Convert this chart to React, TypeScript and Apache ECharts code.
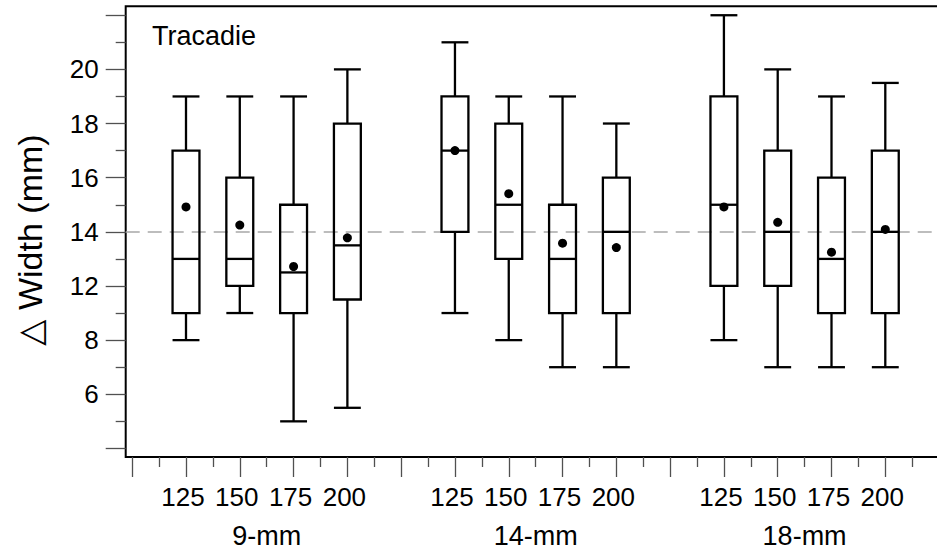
import React, { useEffect, useRef } from "react";
import * as echarts from "echarts";

// ---- data ----
const sizeLabels = ["125", "150", "175", "200"];
const groupLabels = ["9-mm", "14-mm", "18-mm"];

// per box, order: 9-mm(125,150,175,200), 14-mm(...), 18-mm(...)
const whiskerLow = [10, 11, 7, 7.5, 11, 10, 9, 9, 10, 9, 9, 9];
const quart1 = [11, 12, 11, 11.5, 14, 13, 11, 11, 12, 12, 11, 11];
const medians = [13, 13, 12.5, 13.5, 17, 15, 13, 14, 15, 14, 13, 14];
const quart3 = [17, 16, 15, 18, 19, 18, 15, 16, 19, 17, 16, 17];
const whiskerHigh = [19, 19, 19, 20, 21, 19, 19, 18, 22, 20, 19, 19.5];
const means = [14.92, 14.25, 12.72, 13.78, 17.0, 15.41, 13.58, 13.42, 14.92, 14.35, 13.25, 14.09];

const referenceLine = 14;
const yMajorTicks = [6, 8, 10, 12, 14, 16, 18, 20, 22];
const yMinorTicks = [7, 9, 11, 13, 15, 17, 19, 21];
const yLabelValues = [8, 10, 12, 14, 16, 18, 20];
const yLabelTexts = ["6", "8", "12", "14", "16", "18", "20"];

const FONT = "'Liberation Sans', Arial, Helvetica, sans-serif";

export default function App() {
  const ref = useRef<HTMLDivElement>(null);

  useEffect(() => {
    if (!ref.current) return;
    const chart = echarts.init(ref.current, null, { renderer: "svg" });

    const slot = (g: number, i: number) => 2 + g * 5 + i;
    const boxData: number[][] = [];
    const meanData: number[][] = [];
    const sizePos: number[] = [];
    const sizeText: Record<string, string> = {};
    groupLabels.forEach((_, g) => {
      sizeLabels.forEach((s, i) => {
        const k = g * sizeLabels.length + i;
        const x = slot(g, i);
        boxData.push([x, whiskerLow[k], quart1[k], medians[k], quart3[k], whiskerHigh[k]]);
        meanData.push([x, means[k]]);
        sizePos.push(x);
        sizeText[String(x)] = s;
      });
    });
    const groupPos = groupLabels.map((_, g) => slot(g, 1.5));
    const groupText: Record<string, string> = {};
    groupPos.forEach((p, g) => (groupText[String(p)] = groupLabels[g]));
    const longTicks: number[] = [];
    const shortTicks: number[] = [];
    for (let v = 1; v <= 15; v++) {
      longTicks.push(v);
      shortTicks.push(v + 0.5);
    }
    const yText: Record<string, string> = {};
    yLabelValues.forEach((v, i) => (yText[String(v)] = yLabelTexts[i]));

    const xMin = 0.879;
    const xMax = 16.017;
    const yMin = 5.683;
    const yMax = 22.33;
    const BOX_W = 0.5;
    const LW = 2.3;
    const tickStyle = { color: "#505050", width: 1.3 };

    chart.setOption({
      animation: false,
      backgroundColor: "#fff",
      grid: {
        left: 125.7,
        top: 6.3,
        right: -3,
        bottom: 97,
        show: true,
        borderColor: "#000",
        borderWidth: 2,
        backgroundColor: "transparent",
        outerBoundsMode: "none",
      },
      xAxis: [
        {
          type: "value",
          position: "bottom",
          min: xMin,
          max: xMax,
          axisLine: { show: false },
          splitLine: { show: false },
          axisTick: { show: true, customValues: longTicks, length: 20, lineStyle: tickStyle },
          axisLabel: {
            customValues: sizePos,
            formatter: (v: number) => sizeText[String(v)] ?? "",
            margin: 27,
            fontSize: 26,
            padding: [0, 6, 0, 0],
            color: "#000",
            fontFamily: FONT,
          },
        },
        {
          type: "value",
          position: "bottom",
          min: xMin,
          max: xMax,
          axisLine: { show: false },
          splitLine: { show: false },
          axisTick: { show: true, customValues: shortTicks, length: 10, lineStyle: tickStyle },
          axisLabel: {
            customValues: groupPos,
            formatter: (v: number) => groupText[String(v)] ?? "",
            margin: 65.5,
            fontSize: 27,
            color: "#000",
            fontFamily: FONT,
          },
        },
      ],
      yAxis: [
        {
          type: "value",
          position: "left",
          min: yMin,
          max: yMax,
          axisLine: { show: false },
          splitLine: { show: false },
          axisTick: { show: true, customValues: yMajorTicks, length: 20, lineStyle: tickStyle },
          axisLabel: {
            customValues: yLabelValues,
            formatter: (v: number) => yText[String(v)] ?? "",
            margin: 27,
            fontSize: 26,
            color: "#000",
            fontFamily: FONT,
          },
        },
        {
          type: "value",
          position: "left",
          min: yMin,
          max: yMax,
          axisLine: { show: false },
          splitLine: { show: false },
          axisTick: { show: true, customValues: yMinorTicks, length: 10, lineStyle: tickStyle },
          axisLabel: { show: false },
        },
      ],
      series: [
        {
          type: "custom",
          xAxisIndex: 0,
          yAxisIndex: 0,
          encode: { x: 0, y: [1, 2, 3, 4, 5] },
          data: boxData,
          renderItem: (params: any, api: any) => {
            const x = api.value(0);
            const lo = api.coord([x, api.value(1)]);
            const q1 = api.coord([x, api.value(2)]);
            const md = api.coord([x, api.value(3)]);
            const q3 = api.coord([x, api.value(4)]);
            const hi = api.coord([x, api.value(5)]);
            const half = api.size([BOX_W, 0])[0] / 2;
            const cx = md[0];
            const st = { stroke: "#000", lineWidth: LW, fill: null };
            return {
              type: "group",
              children: [
                { type: "line", shape: { x1: cx, y1: hi[1], x2: cx, y2: q3[1] }, style: st },
                { type: "line", shape: { x1: cx, y1: q1[1], x2: cx, y2: lo[1] }, style: st },
                { type: "line", shape: { x1: cx - half, y1: hi[1], x2: cx + half, y2: hi[1] }, style: st },
                { type: "line", shape: { x1: cx - half, y1: lo[1], x2: cx + half, y2: lo[1] }, style: st },
                {
                  type: "rect",
                  shape: { x: cx - half, y: q3[1], width: half * 2, height: q1[1] - q3[1] },
                  style: { stroke: "#000", lineWidth: LW, fill: "none" },
                },
                { type: "line", shape: { x1: cx - half, y1: md[1], x2: cx + half, y2: md[1] }, style: st },
              ],
            };
          },
          markLine: {
            silent: true,
            symbol: ["none", "none"],
            label: { show: false },
            lineStyle: { color: "#a8a8a8", width: 1.5, type: [14, 8] },
            data: [{ yAxis: referenceLine }],
            z: 1,
          },
          z: 3,
        },
        {
          type: "scatter",
          xAxisIndex: 0,
          yAxisIndex: 0,
          data: meanData,
          symbol: "circle",
          symbolSize: 9,
          itemStyle: { color: "#000", opacity: 1 },
          z: 4,
        },
      ],
      graphic: [
        {
          type: "text",
          left: 152,
          top: 22,
          style: { text: "Tracadie", fontSize: 27, fontFamily: FONT, fill: "#000" },
        },
        {
          type: "text",
          x: 30,
          y: 240,
          rotation: Math.PI / 2,
          style: {
            text: "\u25B3 Width (mm)",
            fontSize: 34,
            fontFamily: "'Liberation Sans', Arial, 'DejaVu Sans', sans-serif",
            fill: "#000",
            textAlign: "center",
            textVerticalAlign: "middle",
          },
        },
      ],
    });

    return () => chart.dispose();
  }, []);

  return (
    <div
      ref={ref}
      style={{ position: "fixed", left: 0, top: 0, width: 937, height: 554 }}
    />
  );
}
